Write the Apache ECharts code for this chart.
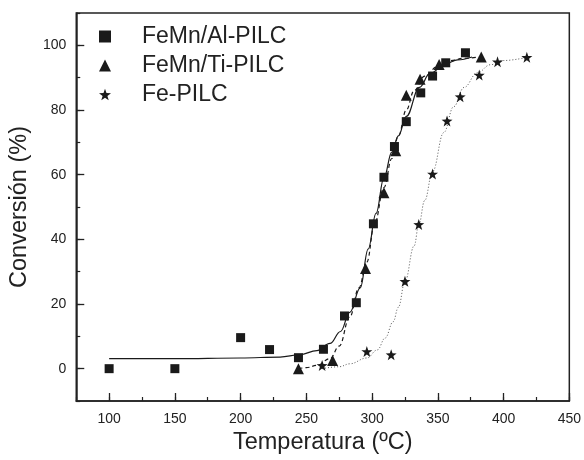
<!DOCTYPE html>
<html>
<head>
<meta charset="utf-8">
<script src="https://cdn.jsdelivr.net/npm/echarts@6/dist/echarts.min.js"></script>
<style>
html,body{margin:0;padding:0;background:#fff;}
#chart{width:584px;height:460px;}
</style>
</head>
<body>
<div id="chart"></div>
<script>
// Measured points [Temperatura, Conversión]
const alPoints = [[100,0],[150,0],[200,9.6],[222,5.9],[244,3.4],[263,6],[279,16.3],[288,20.4],[301,44.8],[309,59.2],[317,68.7],[326,76.4],[337,85.3],[346,90.5],[356,94.6],[371,97.7]];
const tiPoints = [[244,0],[270,2.5],[295,31],[309,54.4],[318,67.4],[326,84.6],[336.5,89.5],[351,94.1],[383,96.4]];
const fePoints = [[262,1],[296,5.3],[314.5,4.3],[325,27],[335.5,44.6],[346,60.2],[357,76.6],[367,84.1],[381.5,90.8],[395.4,94.9],[417.7,96.3]];
// Fitted curves
const alFit = [[100,3.1],[150,3.1],[200,3.3],[230,3.6],[245,4.3],[258,5.6],[268,7.8],[276,11.5],[283,17.4],[291,25],[297,37],[303,48],[309,59],[315,67],[320,72],[326,78],[336,87],[344,91.3],[356,94.3],[365,95.5],[376,96.4]];
const tiFit = [[244,0],[250,0.3],[258,1],[268,3.1],[275,7],[283,16],[290,25],[296,33],[302,45],[309,56],[315,65],[320,72],[326,80],[332,86],[340,90.5],[350,93.5],[360,95.3],[370,96],[383,96.5]];
const feFit = [[262,0],[275,0.6],[283,1.5],[296,3.3],[304,5.8],[310,9.5],[316,14.5],[320,19],[325,27],[332,38],[335.5,44.5],[340,52],[346,61],[354.5,73],[362,81],[370,87],[380,91.5],[390,94],[400,95.3],[418,96.3]];
const seriesNames = ['FeMn/Al-PILC','FeMn/Ti-PILC','Fe-PILC'];
const xTicks = [100,150,200,250,300,350,400,450];
const yTicks = [0,20,40,60,80,100];

const starPath = 'path://M0,-10L2.35,-3.24L9.51,-3.09L3.8,1.24L5.88,8.09L0,4L-5.88,8.09L-3.8,1.24L-9.51,-3.09L-2.35,-3.24Z';
const ink = '#1a1a1a';
const font = 'Liberation Sans, Arial, sans-serif';

const chart = echarts.init(document.getElementById('chart'), null, {renderer:'canvas'});
chart.setOption({
  animation:false,
  backgroundColor:'#fff',
  grid:{left:76,right:14,top:13,bottom:58,show:true,borderColor:'#222',borderWidth:1.5,backgroundColor:'transparent'},
  legend:{
    data:seriesNames.map(n=>({name:n})),
    orient:'vertical', left:94, top:20,
    itemWidth:12, itemHeight:12, itemGap:6,
    textStyle:{fontSize:23,color:'#222',fontFamily:font,padding:[0,0,0,26]},
    selectedMode:false
  },
  xAxis:[{
    type:'value', min:75, max:450, interval:25,
    name:'Temperatura (ºC)', nameLocation:'middle', nameGap:30,
    nameTextStyle:{fontSize:23.5,color:'#222',fontFamily:font},
    axisLine:{show:true,onZero:false,lineStyle:{color:'#222',width:1.5}},
    axisTick:{show:true,inside:true,length:8,customValues:xTicks,lineStyle:{color:'#222',width:1.3}},
    axisLabel:{show:true,customValues:xTicks,fontSize:14,color:'#222',fontFamily:font,margin:11},
    splitLine:{show:false}
  },{
    type:'value', min:75, max:450, interval:25, position:'bottom', gridIndex:0,
    axisLine:{show:false,onZero:false},
    axisTick:{show:true,inside:true,length:4,lineStyle:{color:'#222',width:1.2}},
    axisLabel:{show:false}, splitLine:{show:false}
  }],
  yAxis:[{
    type:'value', min:-10, max:110, interval:10,
    name:'Conversión (%)', nameLocation:'middle', nameGap:41,
    nameTextStyle:{fontSize:23.5,color:'#222',fontFamily:font},
    axisLine:{show:true,onZero:false,lineStyle:{color:'#222',width:1.5}},
    axisTick:{show:true,inside:true,length:8,customValues:yTicks,lineStyle:{color:'#222',width:1.3}},
    axisLabel:{show:true,customValues:yTicks,fontSize:14,color:'#222',fontFamily:font,margin:10},
    splitLine:{show:false}
  },{
    type:'value', min:-10, max:110, interval:10, position:'left', gridIndex:0,
    axisLine:{show:false,onZero:false},
    axisTick:{show:true,inside:true,length:4,lineStyle:{color:'#222',width:1.2}},
    axisLabel:{show:false}, splitLine:{show:false}
  }],
  series:[
    {type:'line', data:alFit, smooth:0.4, smoothMonotone:'x', showSymbol:false, silent:true,
      lineStyle:{color:ink,width:1.2,type:'solid'}, z:2},
    {type:'line', data:tiFit, smooth:0.4, smoothMonotone:'x', showSymbol:false, silent:true,
      lineStyle:{color:ink,width:1.2,type:[4,3]}, z:2},
    {type:'line', data:feFit, smooth:0.4, smoothMonotone:'x', showSymbol:false, silent:true,
      lineStyle:{color:'#555',width:1,type:[1,2]}, z:2},
    {name:seriesNames[0], type:'scatter', data:alPoints, symbol:'rect', symbolSize:9,
      itemStyle:{color:ink,opacity:1}, z:3},
    {name:seriesNames[1], type:'scatter', data:tiPoints, symbol:'triangle', symbolSize:11,
      itemStyle:{color:ink,opacity:1}, z:3},
    {name:seriesNames[2], type:'scatter', data:fePoints, symbol:starPath, symbolSize:11,
      itemStyle:{color:ink,opacity:1}, z:3}
  ]
});
</script>
</body>
</html>
